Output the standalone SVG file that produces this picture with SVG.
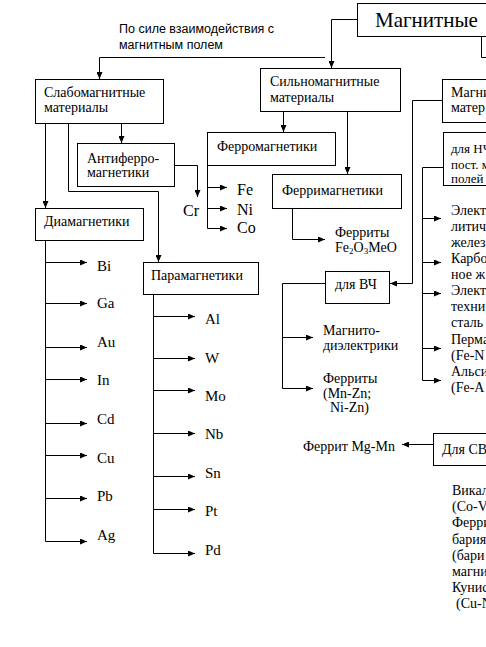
<svg xmlns="http://www.w3.org/2000/svg" width="486" height="647" viewBox="0 0 486 647">
<style>
.b{fill:#fff;stroke:#000;stroke-width:1}
.c{fill:none;stroke:#000;stroke-width:1}
text{font-family:"Liberation Serif","Times New Roman",serif;font-size:14px;fill:#000}
.s{font-family:"Liberation Sans",Arial,sans-serif;font-size:12.5px}
.e{font-size:15px}
.f{font-size:16px}
.sm{font-size:13px}
</style>
<defs>
<marker id="a" markerUnits="userSpaceOnUse" markerWidth="8" markerHeight="6" refX="7" refY="3" orient="auto">
<path d="M0,0 L7,3 L0,6 z" fill="#000"/>
</marker>
</defs>
<rect width="486" height="647" fill="#fff"/>
<g id="connectors">
<polyline class="c" points="357,19.5 331.5,19.5 331.5,68" marker-end="url(#a)"/>
<polyline class="c" points="325,57.5 99.5,57.5 99.5,79" marker-end="url(#a)"/>
<polyline class="c" points="481.5,36 481.5,57.5 490,57.5"/>
<polyline class="c" points="45.5,123 45.5,208" marker-end="url(#a)"/>
<polyline class="c" points="68.5,123 68.5,191.5 158.5,191.5 158.5,262" marker-end="url(#a)"/>
<polyline class="c" points="121.5,123 121.5,143" marker-end="url(#a)"/>
<polyline class="c" points="174,165.5 197.5,165.5 197.5,197" marker-end="url(#a)"/>
<polyline class="c" points="45.5,240 45.5,541.5 87,541.5" marker-end="url(#a)"/>
<line class="c" x1="45.5" y1="262.5" x2="87" y2="262.5" marker-end="url(#a)"/>
<line class="c" x1="45.5" y1="303.5" x2="87" y2="303.5" marker-end="url(#a)"/>
<line class="c" x1="45.5" y1="347.5" x2="87" y2="347.5" marker-end="url(#a)"/>
<line class="c" x1="45.5" y1="379.5" x2="87" y2="379.5" marker-end="url(#a)"/>
<line class="c" x1="45.5" y1="423.5" x2="87" y2="423.5" marker-end="url(#a)"/>
<line class="c" x1="45.5" y1="455.5" x2="87" y2="455.5" marker-end="url(#a)"/>
<line class="c" x1="45.5" y1="498.5" x2="87" y2="498.5" marker-end="url(#a)"/>
<polyline class="c" points="153.5,294 153.5,553.5 195,553.5" marker-end="url(#a)"/>
<line class="c" x1="153.5" y1="316.5" x2="195" y2="316.5" marker-end="url(#a)"/>
<line class="c" x1="153.5" y1="358.5" x2="195" y2="358.5" marker-end="url(#a)"/>
<line class="c" x1="153.5" y1="390.5" x2="195" y2="390.5" marker-end="url(#a)"/>
<line class="c" x1="153.5" y1="433.5" x2="195" y2="433.5" marker-end="url(#a)"/>
<line class="c" x1="153.5" y1="476.5" x2="195" y2="476.5" marker-end="url(#a)"/>
<line class="c" x1="153.5" y1="509.5" x2="195" y2="509.5" marker-end="url(#a)"/>
<polyline class="c" points="283.5,111 283.5,132" marker-end="url(#a)"/>
<polyline class="c" points="347.5,111 347.5,174" marker-end="url(#a)"/>
<polyline class="c" points="207.5,165 207.5,228.5 227,228.5" marker-end="url(#a)"/>
<line class="c" x1="207.5" y1="187.5" x2="227" y2="187.5" marker-end="url(#a)"/>
<line class="c" x1="207.5" y1="208.5" x2="227" y2="208.5" marker-end="url(#a)"/>
<polyline class="c" points="292.5,208 292.5,239.5 325,239.5" marker-end="url(#a)"/>
<polyline class="c" points="442,100.5 412.5,100.5 412.5,283.5 390,283.5" marker-end="url(#a)"/>
<polyline class="c" points="325,283.5 282.5,283.5 282.5,388.5 313,388.5" marker-end="url(#a)"/>
<line class="c" x1="282.5" y1="337.5" x2="313" y2="337.5" marker-end="url(#a)"/>
<polyline class="c" points="443,167.5 422.5,167.5 422.5,380.5 441,380.5" marker-end="url(#a)"/>
<line class="c" x1="422.5" y1="218.5" x2="441" y2="218.5" marker-end="url(#a)"/>
<line class="c" x1="422.5" y1="262.5" x2="441" y2="262.5" marker-end="url(#a)"/>
<line class="c" x1="422.5" y1="293.5" x2="441" y2="293.5" marker-end="url(#a)"/>
<line class="c" x1="422.5" y1="348.5" x2="441" y2="348.5" marker-end="url(#a)"/>
<line class="c" x1="433" y1="444.5" x2="402" y2="444.5" marker-end="url(#a)"/>
</g>
<g id="magnitnye">
<rect class="b" x="357.5" y="3.5" width="150" height="33"/>
<text x="375" y="27" style="font-size:21px">Магнитные</text>
</g>
<g id="label">
<text class="s" x="119" y="32.5">По силе взаимодействия с</text>
<text class="s" x="119" y="48.5">магнитным полем</text>
</g>
<g id="slabo">
<rect class="b" x="35.5" y="79.5" width="128" height="44"/>
<text x="44" y="97">Слабомагнитные</text>
<text x="44" y="112">материалы</text>
</g>
<g id="silno">
<rect class="b" x="260.5" y="68.5" width="140" height="43"/>
<text x="270" y="86">Сильномагнитные</text>
<text x="270" y="102">материалы</text>
</g>
<g id="magni">
<rect class="b" x="442.5" y="79.5" width="60" height="43"/>
<text x="451" y="97">Магни</text>
<text x="451" y="112">матер</text>
</g>
<g id="antiferro">
<rect class="b" x="77.5" y="143.5" width="97" height="43"/>
<text x="87" y="163">Антиферро-</text>
<text x="87" y="177">магнетики</text>
</g>
<g id="cr"><text class="f" x="183" y="216">Cr</text></g>
<g id="dia">
<rect class="b" x="35.5" y="208.5" width="108" height="32"/>
<text x="44" y="226">Диамагнетики</text>
</g>
<g id="dia-items">
<text class="e" x="97" y="271">Bi</text>
<text class="e" x="97" y="308">Ga</text>
<text class="e" x="97" y="347">Au</text>
<text class="e" x="97" y="385">In</text>
<text class="e" x="97" y="424">Cd</text>
<text class="e" x="97" y="463">Cu</text>
<text class="e" x="97" y="501">Pb</text>
<text class="e" x="97" y="540">Ag</text>
</g>
<g id="para">
<rect class="b" x="143.5" y="262.5" width="115" height="32"/>
<text x="151" y="280">Парамагнетики</text>
</g>
<g id="para-items">
<text class="e" x="205" y="324">Al</text>
<text class="e" x="205" y="363">W</text>
<text class="e" x="205" y="401">Mo</text>
<text class="e" x="205" y="439">Nb</text>
<text class="e" x="205" y="478">Sn</text>
<text class="e" x="205" y="516">Pt</text>
<text class="e" x="205" y="555">Pd</text>
</g>
<g id="ferro">
<rect class="b" x="207.5" y="132.5" width="128" height="33"/>
<text x="217" y="151">Ферромагнетики</text>
</g>
<g id="ferro-items">
<text class="f" x="237" y="195">Fe</text>
<text class="f" x="237" y="215">Ni</text>
<text class="f" x="237" y="233">Co</text>
</g>
<g id="ferri">
<rect class="b" x="272.5" y="174.5" width="129" height="34"/>
<text x="282" y="195">Ферримагнетики</text>
</g>
<g id="ferrity">
<text x="335" y="237">Ферриты</text>
<text x="335" y="252">Fe<tspan font-size="9" dy="2">2</tspan><tspan dy="-2">O</tspan><tspan font-size="9" dy="2">3</tspan><tspan dy="-2">MeO</tspan></text>
</g>
<g id="vch">
<rect class="b" x="325.5" y="271.5" width="64" height="32"/>
<text x="335" y="289">для ВЧ</text>
</g>
<g id="vch-items">
<text x="323" y="335">Магнито-</text>
<text x="323" y="349.5">диэлектрики</text>
<text x="323" y="383">Ферриты</text>
<text x="323" y="397.5">(Mn-Zn;</text>
<text x="330" y="412">Ni-Zn)</text>
</g>
<g id="nch">
<rect class="b" x="443.5" y="132.5" width="60" height="53"/>
<text class="sm" x="451" y="153">для НЧ</text>
<text class="sm" x="451" y="169">пост. м</text>
<text class="sm" x="451" y="183">полей</text>
</g>
<g id="nch-items">
<text x="451" y="215">Элект</text>
<text x="451" y="231">литич</text>
<text x="451" y="247">желез</text>
<text x="451" y="263">Карбо</text>
<text x="451" y="279">ное ж</text>
<text x="451" y="295">Элект</text>
<text x="451" y="311">техни</text>
<text x="451" y="327">сталь</text>
<text x="451" y="343.5">Перма</text>
<text x="451" y="359.5">(Fe-N</text>
<text x="451" y="375.5">Альси</text>
<text x="451" y="391.5">(Fe-A</text>
</g>
<g id="sv">
<rect class="b" x="433.5" y="433.5" width="70" height="32"/>
<text x="442" y="454">Для СВ</text>
</g>
<g id="mgmn"><text x="303" y="451">Феррит Mg-Mn</text></g>
<g id="sv-items">
<text x="452" y="495">Викал</text>
<text x="452" y="511">(Co-V</text>
<text x="452" y="527">Ферри</text>
<text x="452" y="543.5">бария</text>
<text x="452" y="560">(бари</text>
<text x="452" y="576">магни</text>
<text x="452" y="592">Кунис</text>
<text x="456" y="608">(Cu-N</text>
</g>
</svg>
